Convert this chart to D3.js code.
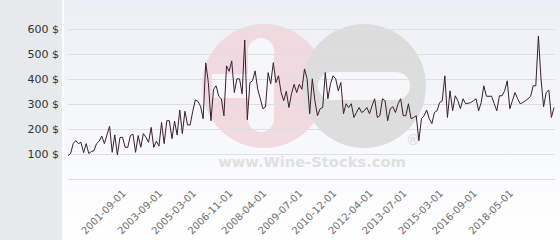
<!DOCTYPE html>
<html>
<head>
<meta charset="utf-8">
<script src="https://cdn.jsdelivr.net/npm/d3@7"></script>
<style>
  body { margin: 0; background: #fff; }
  svg { display: block; font-family: "DejaVu Sans", sans-serif; }
</style>
</head>
<body>
<div id="chart"></div>
<script>
// prices ($), one per observation, read left to right
const pricesA = [92,100,140,152,140,145,104,140,100,108,112,140,150,170,140,175,210,105,175,95,
  165,165,125,125,172,178,105,172,125,180,165,145,205,125,150,130,225,140,232,232,
  160,230,175,275,180,270,215,215,270,315,310,290,240];
const pricesB = [464,385,232,358,372,330,320,252,452,430,472,345,400,400,340,556,236,385,392,432,
  358,320,280,287,425,380,465,385,412,345,312,350,285,340,378,345,378,358,440,400,
  260,400,312,252,280,285,425,320,380,412,400,352,385,260,300,285,300,245,265,285,
  265,272,285,260,292];
const pricesC = [320,245,252,320,312,232,280,288,265,300,320,252,252,300,240,245,252,152,240,252,
  275,240,220,265,272,305,312,412,245,352,272,332,312,280,320,300,302,305,312,320,
  272,305,372,330,330,330,300,272,332,332,352,392,280,312,345,320,300,305,312,320,
  330,372,372,572,400,288,345,355,245,285];
const prices = pricesA.concat(pricesB, pricesC);

const yTicks = [100, 200, 300, 400, 500, 600];
const gridValues = [0, 100, 200, 300, 400, 500, 600];
const tickIndex = [21, 35, 48, 62, 75, 89, 102, 116, 129, 143, 156, 170];
const tickLabels = ["2001-09-01","2003-09-01","2005-03-01","2006-11-01","2008-04-01","2009-07-01",
  "2010-12-01","2012-04-01","2013-07-01","2015-03-01","2016-09-01","2018-05-01"];

const width = 560, height = 240;
const svg = d3.select("#chart").append("svg")
  .attr("width", width)
  .attr("height", height);

const defs = svg.append("defs");
const grad = defs.append("linearGradient")
  .attr("id", "bg").attr("x1", 0).attr("y1", 0).attr("x2", 0).attr("y2", 1);
grad.append("stop").attr("offset", "0%").attr("stop-color", "#eceff5");
grad.append("stop").attr("offset", "100%").attr("stop-color", "#ffffff");

// left panel + plot background
svg.append("rect").attr("width", 62).attr("height", height).attr("fill", "#e6eaed");
svg.append("rect").attr("x", 64).attr("width", width - 64).attr("height", height).attr("fill", "url(#bg)");

const x = d3.scaleLinear().domain([0, prices.length - 1]).range([68, 554]);
const y = d3.scaleLinear().domain([0, 600]).range([178.5, 29]);

// watermark logo (faint)
const wm = svg.append("g").attr("opacity", 0.85);
wm.append("circle").attr("cx", 264).attr("cy", 86).attr("r", 62).attr("fill", "#f0d6dc");
wm.append("circle").attr("cx", 364).attr("cy", 86).attr("r", 62).attr("fill", "#d9d9d9");
wm.append("rect").attr("x", 248).attr("y", 38).attr("width", 26).attr("height", 94).attr("rx", 13).attr("fill", "#f8f8fa");
wm.append("rect").attr("x", 212).attr("y", 74).attr("width", 40).attr("height", 24).attr("fill", "#f8f8fa");
wm.append("rect").attr("x", 318).attr("y", 72).attr("width", 92).attr("height", 28).attr("rx", 14).attr("fill", "#f8f8fa");
wm.append("text").attr("x", 312).attr("y", 167).attr("text-anchor", "middle")
  .attr("font-size", 14.7).attr("font-weight", "bold").attr("fill", "#dcdcdc")
  .text("www.Wine-Stocks.com");
wm.append("text").attr("x", 413).attr("y", 145).attr("text-anchor", "middle")
  .attr("font-size", 14).attr("fill", "#d2d2d2").text("®");

// gridlines
svg.append("g").selectAll("line")
  .data(gridValues)
  .enter().append("line")
    .attr("x1", 68).attr("x2", 555)
    .attr("y1", d => Math.round(y(d)) + 0.5)
    .attr("y2", d => Math.round(y(d)) + 0.5)
    .style("stroke", "#dedfe3")
    .style("stroke-width", 1);

// y labels
svg.append("g").selectAll("text")
  .data(yTicks)
  .enter().append("text")
    .attr("x", 59)
    .attr("y", d => y(d) + 4)
    .attr("text-anchor", "end")
    .attr("font-size", 11)
    .attr("fill", "#333")
    .text(d => d + " $");

// x labels
svg.append("g").selectAll("text")
  .data(tickIndex)
  .enter().append("text")
    .attr("transform", d => `translate(${x(d) + 4},${194}) rotate(-45)`)
    .attr("text-anchor", "end")
    .attr("font-size", 10)
    .attr("fill", "#6e6e6e")
    .text((d, i) => tickLabels[i]);

// price line
const line = d3.line()
  .x((d, i) => x(i))
  .y(d => y(d));

svg.append("path")
  .datum(prices)
  .attr("d", line)
  .attr("fill", "none")
  .style("stroke", "#3a1f2c")
  .style("stroke-width", 1);
</script>
</body>
</html>
